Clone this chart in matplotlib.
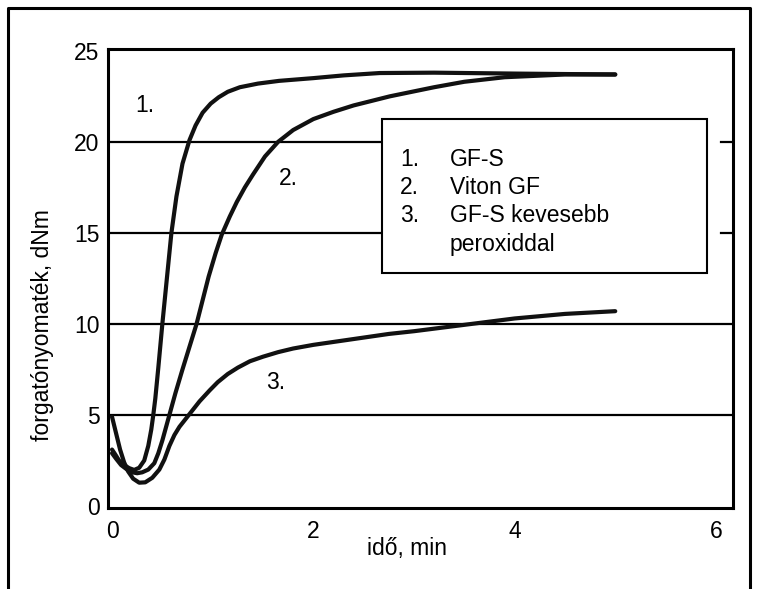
import matplotlib
matplotlib.use("Agg")
import matplotlib.pyplot as plt
from matplotlib.patches import Rectangle

plt.rcParams['font.family'] = ['Liberation Sans', 'DejaVu Sans']

# ---- data ----
x_gfs = [0, 0.03, 0.07, 0.12, 0.17, 0.22, 0.27, 0.32, 0.36, 0.39, 0.41, 0.43, 0.46, 0.50,
         0.545, 0.59, 0.64, 0.70, 0.77, 0.83, 0.90, 0.98, 1.06, 1.15, 1.27, 1.45, 1.66,
         2.0, 2.3, 2.66, 3.2, 4.0, 5.0]
y_gfs = [3.1, 2.85, 2.5, 2.25, 2.08, 1.98, 2.1, 2.5, 3.3, 4.2, 5.0, 5.9, 7.6, 10.0,
         12.5, 15.0, 17.0, 18.8, 20.1, 20.9, 21.6, 22.1, 22.45, 22.75, 23.0, 23.2, 23.35,
         23.5, 23.65, 23.78, 23.8, 23.75, 23.7]

x_viton = [0, 0.04, 0.09, 0.15, 0.20, 0.25, 0.30, 0.36, 0.42, 0.46, 0.50, 0.57, 0.63, 0.70,
           0.77, 0.84, 0.96, 1.03, 1.09, 1.17, 1.24, 1.32, 1.40, 1.52, 1.65, 1.80, 2.0,
           2.2, 2.4, 2.76, 3.2, 3.5, 3.9, 4.5, 5.0]
y_viton = [2.9, 2.6, 2.25, 2.0, 1.85, 1.8, 1.85, 2.0, 2.35, 2.9, 3.6, 5.0, 6.2, 7.5,
           8.75, 10.0, 12.6, 13.9, 14.9, 15.9, 16.7, 17.5, 18.2, 19.2, 20.0, 20.65, 21.25,
           21.65, 22.0, 22.5, 23.0, 23.3, 23.55, 23.7, 23.7]

x_low = [0, 0.04, 0.08, 0.12, 0.16, 0.21, 0.27, 0.33, 0.40, 0.47, 0.52, 0.57, 0.62, 0.67,
         0.72, 0.77, 0.82, 0.87, 0.92, 0.97, 1.05, 1.15, 1.25, 1.37, 1.5, 1.65, 1.8,
         2.0, 2.25, 2.5, 2.75, 3.0, 3.5, 4.0, 4.5, 5.0]
y_low = [4.9, 4.0, 3.1, 2.4, 1.9, 1.5, 1.28, 1.3, 1.55, 2.0, 2.55, 3.3, 3.9, 4.35,
         4.7, 5.05, 5.4, 5.75, 6.05, 6.35, 6.8, 7.25, 7.6, 7.95, 8.2, 8.45, 8.65,
         8.85, 9.05, 9.25, 9.45, 9.6, 9.95, 10.3, 10.55, 10.7]

x_ticks = [0, 2, 4, 6]
y_ticks = [0, 5, 10, 15, 20, 25]
grid_levels = [5, 10, 15, 20]

legend_lines = [("1.", "GF-S"), ("2.", "Viton GF"), ("3.", "GF-S kevesebb"), ("", "peroxiddal")]
curve_labels = [("1.", 0.33, 22.0), ("2.", 1.75, 18.0), ("3.", 1.63, 6.8)]

W, H = 757, 589
fig = plt.figure(figsize=(W / 100, H / 100), dpi=100)
fig.patch.set_facecolor('white')

def fx(px):
    return px / W

def fy(py):
    return 1 - py / H

ax = fig.add_axes([fx(108), fy(508), fx(733) - fx(108), fy(49) - fy(508)])
ax.set_xlim(-0.04, 6.17)
ax.set_ylim(-0.11, 25.1)

fs = 16.5
lw_curve = 3.0

# gridlines
box_x0 = (382 - 112.5) / 100.7
for g in grid_levels:
    if g in (15, 20):
        ax.plot([-0.04, box_x0], [g, g], color='black', lw=1.6, zorder=1)
        ax.plot([6.05, 6.17], [g, g], color='black', lw=1.6, zorder=1)
    else:
        ax.plot([-0.04, 6.17], [g, g], color='black', lw=1.6, zorder=1)

for xs, ys in ((x_gfs, y_gfs), (x_viton, y_viton), (x_low, y_low)):
    ax.plot(xs, ys, color='#111111', lw=lw_curve, solid_capstyle='round',
            solid_joinstyle='round', zorder=3)

for lbl, lx, ly in curve_labels:
    ax.text(lx, ly, lbl, fontsize=fs, ha='center', va='center', zorder=4)

for s in ax.spines.values():
    s.set_linewidth(2.2)
ax.set_xticks(x_ticks)
ax.set_yticks(y_ticks)
ax.tick_params(axis='both', length=0, labelsize=fs)
ax.tick_params(axis='x', pad=9)
ax.tick_params(axis='y', pad=6)

# legend box (figure pixel coords)
bx0, by0, bx1, by1 = 382, 119, 707, 273
fig.patches.append(Rectangle((fx(bx0), fy(by1)), fx(bx1) - fx(bx0), fy(by0) - fy(by1),
                             transform=fig.transFigure, facecolor='white', edgecolor='black',
                             lw=1.5, zorder=5))
for i, (num, txt) in enumerate(legend_lines):
    yy = 160 + i * 28
    if num:
        fig.text(fx(400), fy(yy), num, fontsize=fs, ha='left', va='center', zorder=6)
    fig.text(fx(450), fy(yy), txt, fontsize=fs, ha='left', va='center', zorder=6)

fig.text(fx(43), fy(325), "forgatónyomaték, dNm", fontsize=fs, rotation=90,
         ha='center', va='center')
fig.text(fx(407), fy(548), "idő, min", fontsize=fs, ha='center', va='center')

# outer border (open at the bottom)
fig.lines.append(plt.Line2D([fx(8), fx(8), fx(750), fx(750)], [0, fy(8), fy(8), 0],
                            transform=fig.transFigure, color='black', lw=2.2))

fig.savefig("out.png", dpi=100, facecolor='white')
